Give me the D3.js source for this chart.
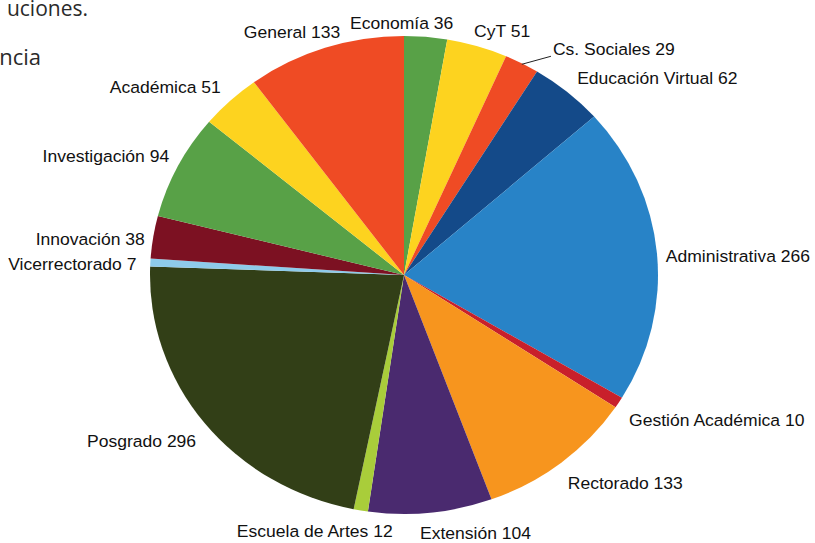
<!DOCTYPE html>
<html>
<head>
<meta charset="utf-8">
<script src="https://cdn.jsdelivr.net/npm/d3@7"></script>
<style>
  body { margin: 0; background: #fff; }
  svg { display: block; }
</style>
</head>
<body>
<div id="chart"></div>
<script>
// data, clockwise from 12 o'clock
const categories = ["Economía", "CyT", "Cs. Sociales", "Educación Virtual", "Administrativa",
    "Gestión Académica", "Rectorado", "Extensión", "Escuela de Artes", "Posgrado",
    "Vicerrectorado", "Innovación", "Investigación", "Académica", "General"];
const values = [36, 51, 29, 62, 266, 10, 133, 104, 12, 296, 7, 38, 94, 51, 133];
const colors = ["#58a147", "#fdd31f", "#ef4b24", "#144a89", "#2883c7",
    "#c8202b", "#f7951e", "#4a2a6f", "#a9cd3a", "#323f17",
    "#8ecbea", "#7c1122", "#58a147", "#fdd31f", "#ef4b24"];

// visible bits of the slide text behind the chart
const cornerText = ["uciones.", "ncia"];

// label nudges from the slice edge (layout only)
const labelNudge = [[-24, -14], [25, -15], [92, -14], [90, -14], [81, 3],
    [98, 17], [64, 20], [45, 20], [-46, 21], [-63, 18],
    [-78, 2], [-63, 2], [-72, -10], [-65, -14], [-33, -16]];

const width = 815, height = 543;
const cx = 404, cy = 275, rx = 254, ry = 239;
const sx = rx / ry;

const svg = d3.select("#chart").append("svg")
    .attr("width", width)
    .attr("height", height);

svg.append("text")
    .attr("x", 88).attr("y", 16)
    .attr("text-anchor", "end")
    .style("font-family", "'Open Sans', sans-serif")
    .style("font-size", "21px")
    .style("fill", "#2a2a2a")
    .text(cornerText[0]);
svg.append("text")
    .attr("x", 41).attr("y", 65)
    .attr("text-anchor", "end")
    .style("font-family", "'Open Sans', sans-serif")
    .style("font-size", "22px")
    .style("fill", "#2a2a2a")
    .text(cornerText[1]);

const pie = d3.pie().sort(null).value(d => d)(values);

const arc = d3.arc().innerRadius(0).outerRadius(ry);

const g = svg.append("g")
    .attr("transform", "translate(" + cx + "," + cy + ") scale(" + sx + ",1)");

g.selectAll("path")
    .data(pie)
    .enter().append("path")
    .attr("d", arc)
    .attr("fill", (d, i) => colors[i]);

// point on the ellipse edge at the slice's middle angle
function edge(d) {
    const a = (d.startAngle + d.endAngle) / 2;
    return [cx + rx * Math.sin(a), cy - ry * Math.cos(a)];
}

const labels = svg.selectAll(".label")
    .data(pie)
    .enter().append("text")
    .attr("class", "label")
    .attr("transform", function(d, i) {
        const e = edge(d);
        return "translate(" + (e[0] + labelNudge[i][0]) + "," + (e[1] + labelNudge[i][1]) + ") scale(" + sx + ",1)";
    })
    .attr("dy", "0.36em")
    .attr("text-anchor", "middle")
    .style("font-family", "'Liberation Sans', Arial, sans-serif")
    .style("font-size", "16.5px")
    .style("fill", "#111")
    .text((d, i) => categories[i] + " " + values[i]);

// leader line for the small Cs. Sociales slice
const cs = pie[2];
const ce = edge(cs);
const csBox = labels.filter((d, i) => i === 2).node().getBBox();
const csLeft = ce[0] + labelNudge[2][0] - csBox.width * sx / 2;
svg.append("line")
    .attr("x1", ce[0]).attr("y1", ce[1] + 1)
    .attr("x2", csLeft - 2).attr("y2", ce[1] + labelNudge[2][1] + 7)
    .attr("stroke", "#222")
    .attr("stroke-width", 1);
</script>
</body>
</html>
